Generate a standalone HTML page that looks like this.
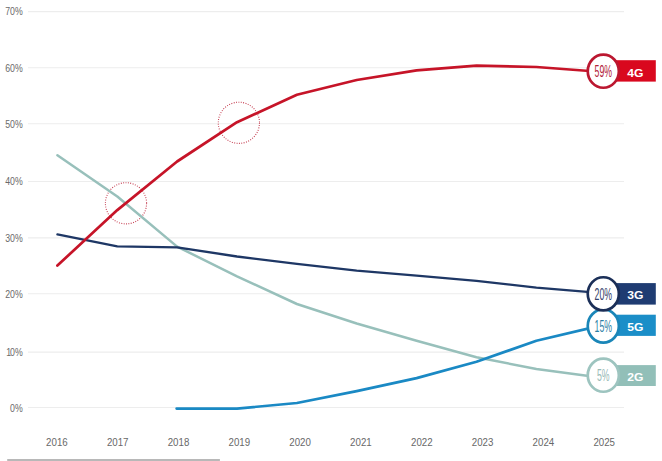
<!DOCTYPE html>
<html><head><meta charset="utf-8"><style>
html,body{margin:0;padding:0;background:#fff;}
body{width:662px;height:461px;overflow:hidden;}
svg{display:block;}
.yl{font-family:"Liberation Sans",sans-serif;font-size:10.2px;fill:#6a6a6a;}
.xl{font-family:"Liberation Sans",sans-serif;font-size:10.8px;fill:#686868;}
.lb{font-family:"Liberation Sans",sans-serif;font-size:11.8px;font-weight:bold;fill:#fff;}
.pc{font-family:"Liberation Sans",sans-serif;font-size:16.5px;}
</style></head><body>
<svg width="662" height="461" viewBox="0 0 662 461">
<line x1="28" y1="11.6" x2="624" y2="11.6" stroke="#ededed" stroke-width="1.1"/>
<text x="0" y="0" class="yl" text-anchor="end" transform="translate(22.7 15.3) scale(0.86 1)">70%</text>
<line x1="28" y1="67.7" x2="624" y2="67.7" stroke="#ededed" stroke-width="1.1"/>
<text x="0" y="0" class="yl" text-anchor="end" transform="translate(22.7 71.7) scale(0.86 1)">60%</text>
<line x1="28" y1="123.7" x2="624" y2="123.7" stroke="#ededed" stroke-width="1.1"/>
<text x="0" y="0" class="yl" text-anchor="end" transform="translate(22.7 127.8) scale(0.86 1)">50%</text>
<line x1="28" y1="181.5" x2="624" y2="181.5" stroke="#ededed" stroke-width="1.1"/>
<text x="0" y="0" class="yl" text-anchor="end" transform="translate(22.7 185.3) scale(0.86 1)">40%</text>
<line x1="28" y1="237.9" x2="624" y2="237.9" stroke="#ededed" stroke-width="1.1"/>
<text x="0" y="0" class="yl" text-anchor="end" transform="translate(22.7 242.0) scale(0.86 1)">30%</text>
<line x1="28" y1="293.8" x2="624" y2="293.8" stroke="#ededed" stroke-width="1.1"/>
<text x="0" y="0" class="yl" text-anchor="end" transform="translate(22.7 298.0) scale(0.86 1)">20%</text>
<line x1="28" y1="352.1" x2="624" y2="352.1" stroke="#ededed" stroke-width="1.1"/>
<text x="0" y="0" class="yl" text-anchor="end" transform="translate(22.7 355.7) scale(0.86 1)">0%</text>
<text x="0" y="0" class="yl" text-anchor="end" transform="translate(11.1 355.7) scale(0.86 1)">1</text>
<line x1="28" y1="407.5" x2="624" y2="407.5" stroke="#ededed" stroke-width="1.1"/>
<text x="0" y="0" class="yl" text-anchor="end" transform="translate(22.7 411.8) scale(0.86 1)">0%</text>
<text x="0" y="0" class="xl" text-anchor="middle" transform="translate(56.9 446.1) scale(0.9 1)">2016</text>
<text x="0" y="0" class="xl" text-anchor="middle" transform="translate(117.7 446.1) scale(0.9 1)">2017</text>
<text x="0" y="0" class="xl" text-anchor="middle" transform="translate(178.5 446.1) scale(0.9 1)">2018</text>
<text x="0" y="0" class="xl" text-anchor="middle" transform="translate(239.3 446.1) scale(0.9 1)">2019</text>
<text x="0" y="0" class="xl" text-anchor="middle" transform="translate(300.1 446.1) scale(0.9 1)">2020</text>
<text x="0" y="0" class="xl" text-anchor="middle" transform="translate(360.9 446.1) scale(0.9 1)">2021</text>
<text x="0" y="0" class="xl" text-anchor="middle" transform="translate(421.8 446.1) scale(0.9 1)">2022</text>
<text x="0" y="0" class="xl" text-anchor="middle" transform="translate(482.6 446.1) scale(0.9 1)">2023</text>
<text x="0" y="0" class="xl" text-anchor="middle" transform="translate(543.4 446.1) scale(0.9 1)">2024</text>
<text x="0" y="0" class="xl" text-anchor="middle" transform="translate(604.2 446.1) scale(0.9 1)">2025</text>
<rect x="7.2" y="459" width="212.7" height="2" fill="#b8b8b8"/>
<circle cx="126" cy="203.3" r="20.6" fill="none" stroke="#c23448" stroke-width="1.1" stroke-dasharray="0.9 1.5"/>
<circle cx="238.9" cy="122.8" r="20.6" fill="none" stroke="#c23448" stroke-width="1.1" stroke-dasharray="0.9 1.5"/>
<polyline points="57.4,155.2 117.3,196.5 177.1,246.6 237.0,276.3 296.9,304.0 356.7,323.5 416.6,340.8 476.5,357.2 536.4,369.0 596.2,377.0" fill="none" stroke="#98c0bb" stroke-width="2.5" stroke-linejoin="round" stroke-linecap="round"/>
<polyline points="176.6,408.6 237.0,408.6 296.9,403.0 356.7,391.1 416.6,378.1 476.5,361.7 536.4,340.8 596.2,326.6" fill="none" stroke="#1a89c4" stroke-width="2.7" stroke-linejoin="round" stroke-linecap="round"/>
<polyline points="57.4,234.4 117.3,246.3 177.1,247.4 237.0,256.5 296.9,263.8 356.7,270.6 416.6,275.7 476.5,280.8 536.4,287.6 596.2,292.7" fill="none" stroke="#1e3765" stroke-width="2.3" stroke-linejoin="round" stroke-linecap="round"/>
<polyline points="57.4,265.5 117.3,210.1 177.1,161.5 237.0,122.2 296.9,94.7 356.7,80.0 416.6,70.4 476.5,65.6 536.4,67.0 596.2,71.5" fill="none" stroke="#c61428" stroke-width="2.7" stroke-linejoin="round" stroke-linecap="round"/>
<rect x="612" y="60.2" width="43.8" height="21.4" fill="#d9081e"/>
<ellipse cx="603.3" cy="71.2" rx="15.55" ry="16.55" fill="#fff" stroke="#bb1730" stroke-width="2.7"/>
<text x="0" y="0" class="lb" text-anchor="middle" transform="translate(635.4 76.5) scale(1.03 1)">4G</text>
<text x="0" y="0" class="pc" fill="#b22239" font-weight="normal" text-anchor="middle" transform="translate(603.3 77.1) scale(0.53 1)">59%</text>
<rect x="612" y="314.7" width="43.8" height="21.2" fill="#1b8ec8"/>
<ellipse cx="603.3" cy="326.0" rx="15.55" ry="16.55" fill="#fff" stroke="#1a86b8" stroke-width="2.7"/>
<text x="0" y="0" class="lb" text-anchor="middle" transform="translate(635.4 331.3) scale(1.03 1)">5G</text>
<text x="0" y="0" class="pc" fill="#2c7fa6" font-weight="normal" text-anchor="middle" transform="translate(603.3 331.9) scale(0.53 1)">15%</text>
<rect x="612" y="365.1" width="43.8" height="20.9" fill="#92bfb8"/>
<ellipse cx="603.3" cy="375.2" rx="15.55" ry="16.55" fill="#fff" stroke="#9dc4bf" stroke-width="2.7"/>
<text x="0" y="0" class="lb" text-anchor="middle" transform="translate(635.4 380.5) scale(1.03 1)">2G</text>
<text x="0" y="0" class="pc" fill="#97b9b5" font-weight="normal" text-anchor="middle" transform="translate(603.3 381.1) scale(0.53 1)">5%</text>
<rect x="612" y="283.1" width="43.8" height="21.5" fill="#1f3c72"/>
<ellipse cx="603.3" cy="293.8" rx="15.55" ry="16.55" fill="#fff" stroke="#1b2f58" stroke-width="2.7"/>
<text x="0" y="0" class="lb" text-anchor="middle" transform="translate(635.4 299.1) scale(1.03 1)">3G</text>
<text x="0" y="0" class="pc" fill="#34426a" font-weight="normal" text-anchor="middle" transform="translate(603.3 299.7) scale(0.53 1)">20%</text>
</svg>
</body></html>
